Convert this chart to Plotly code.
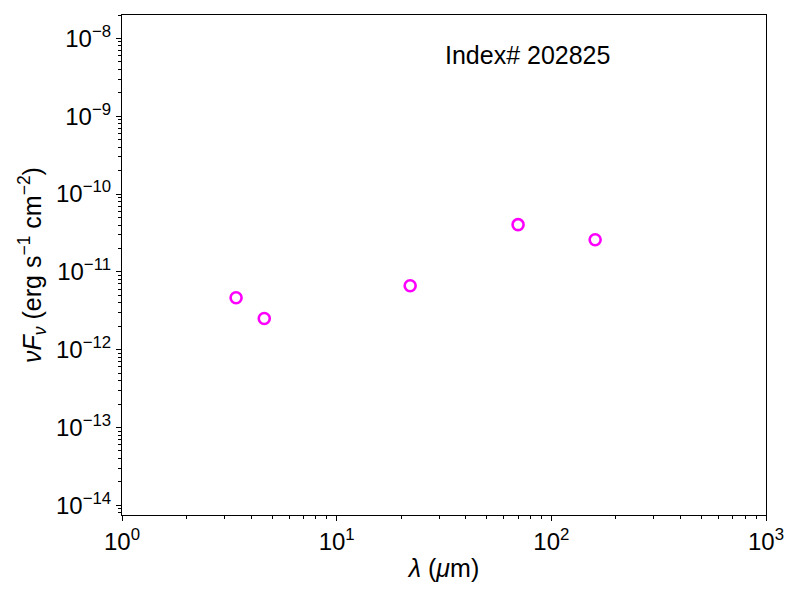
import numpy as np
import plotly.graph_objects as go

# SED photometry (WISE W1, W2, W4, PACS 70, PACS 160)
wavelength_um = [3.4, 4.6, 22.0, 70.0, 160.0]
nu_f_nu = [4.64e-12, 2.51e-12, 6.62e-12, 4.04e-11, 2.59e-11]

x_tick_vals = [1, 10, 100, 1000]
x_tick_text = ["10<sup>0</sup>", "10<sup>1</sup>", "10<sup>2</sup>", "10<sup>3</sup>"]
y_tick_vals = [1e-14, 1e-13, 1e-12, 1e-11, 1e-10, 1e-9, 1e-8]
y_tick_text = ["10<sup>\u221214</sup>", "10<sup>\u221213</sup>", "10<sup>\u221212</sup>",
               "10<sup>\u221211</sup>", "10<sup>\u221210</sup>", "10<sup>\u22129</sup>",
               "10<sup>\u22128</sup>"]

source_label = "Index# 202825"

font_family = "Liberation Sans, Arial, sans-serif"


def minor_ticks(decades):
    # 2..9 x 10^k for every decade in the list
    return [m * 10.0 ** k for k in decades for m in range(2, 10)]


fig = go.Figure()
fig.add_trace(go.Scatter(
    x=wavelength_um,
    y=nu_f_nu,
    mode="markers",
    marker=dict(symbol="circle-open", size=11, color="magenta",
                line=dict(width=2.6, color="magenta")),
    showlegend=False,
))

axis_common = dict(
    type="log",
    automargin=False,
    showgrid=False,
    zeroline=False,
    showline=True,
    linecolor="black",
    linewidth=1.2,
    mirror=True,
    ticks="outside",
    ticklen=5,
    tickwidth=1.1,
    tickcolor="black",
    tickfont=dict(size=24, color="black", family=font_family),
)

fig.update_xaxes(
    **axis_common,
    range=[0, 3],
    tickvals=x_tick_vals,
    ticktext=x_tick_text,
    minor=dict(ticks="outside", ticklen=3, tickwidth=0.8, tickcolor="black",
               showgrid=False, tickvals=minor_ticks(range(0, 3))),
    title=dict(text="<i>\u03bb</i> (<i>\u03bc</i>m)", standoff=5,
               font=dict(size=25, color="black", family=font_family)),
)
fig.update_yaxes(
    **axis_common,
    range=[np.log10(7.5e-15), np.log10(2e-8)],
    tickvals=y_tick_vals,
    ticktext=y_tick_text,
    minor=dict(ticks="outside", ticklen=3, tickwidth=0.8, tickcolor="black",
               showgrid=False, tickvals=minor_ticks(range(-15, -7))),
    title=dict(text="<i>\u03bdF</i><sub><i>\u03bd</i></sub> (erg s<sup>\u22121</sup> cm<sup>\u22122</sup>)",
               standoff=7,
               font=dict(size=25, color="black", family=font_family)),
)

fig.add_annotation(
    x=0.629, y=0.92, xref="paper", yref="paper",
    xanchor="center", yanchor="middle",
    text=source_label, showarrow=False,
    font=dict(size=25, color="black", family=font_family),
)

# the page body adds an 8 px margin, so the figure is a bit smaller
fig.update_layout(
    width=792,
    height=592,
    margin=dict(l=114, r=34, t=7, b=85),
    paper_bgcolor="white",
    plot_bgcolor="white",
    font=dict(family=font_family, color="black"),
)

fig.write_html("out.html")
